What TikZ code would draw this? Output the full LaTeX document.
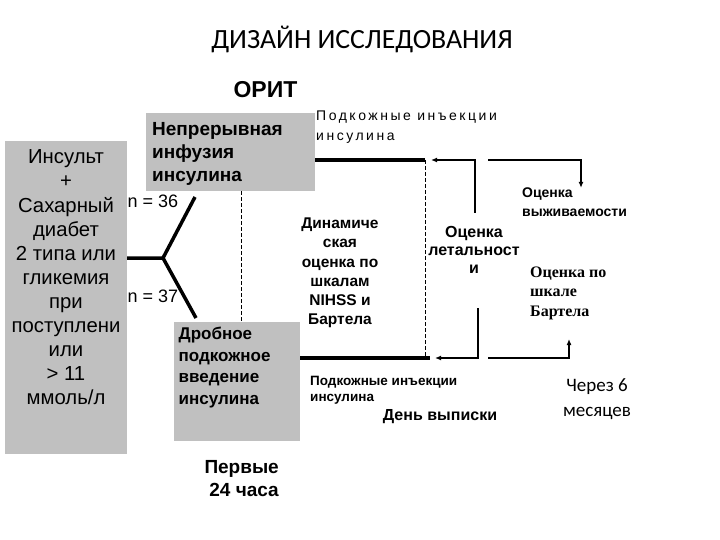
\documentclass[tikz,border=0pt]{standalone}
\usepackage{fontspec}
\setmainfont{Liberation Sans}
\newfontfamily\carlito{Carlito}
\newfontfamily\serifb{Liberation Serif}
\newfontfamily\spacedsans[LetterSpace=18]{Liberation Sans}
\usetikzlibrary{arrows.meta}
\definecolor{boxgray}{HTML}{C0C0C0}
\begin{document}
\begin{tikzpicture}[x=1pt,y=-1pt,
  graybox/.style={fill=boxgray,draw=none,inner sep=0pt},
  thickln/.style={line width=3.5pt},
  thinarr/.style={line width=1.2pt,-{Latex[length=6pt,width=5pt]}},
  thinln/.style={line width=1.2pt},
  dashln/.style={line width=0.8pt,dash pattern=on 4pt off 2pt},
  txt/.style={inner sep=0pt,align=center}]
\useasboundingbox (0,0) rectangle (720,540);
% title
\node[txt,font=\carlito\fontsize{27.8}{32}\selectfont] (title) at (362,39) {ДИЗАЙН ИССЛЕДОВАНИЯ};
\node[txt,font=\bfseries\fontsize{23}{27}\selectfont] (orit) at (265.5,90) {ОРИТ};
% boxes
\node[graybox,minimum width=122pt,minimum height=313pt] (leftbox) at (66,297.5) {};
\node[txt,font=\fontsize{20.3}{24.1}\selectfont] (lefttxt) at (66,277.5) {Инсульт\\+\\Сахарный\\диабет\\2 типа или\\гликемия\\при\\поступлени\\или\\> 11\\ммоль/л};
\node[graybox,minimum width=169pt,minimum height=78pt] (topbox) at (230.5,152) {};
\node[txt,align=left,anchor=west,font=\bfseries\fontsize{19}{23}\selectfont] (toptxt) at (152,154) {Непрерывная\\инфузия\\инсулина};
\node[graybox,minimum width=126pt,minimum height=119pt] (botbox) at (237,381.5) {};
\node[txt,align=left,anchor=west,font=\bfseries\fontsize{17}{21.7}\selectfont] (bottxt) at (178.5,367.5) {Дробное\\подкожное\\введение\\инсулина};
% fork
\coordinate (fork) at (163,258);
\coordinate (up) at (195,197);
\coordinate (dn) at (196,318);
\draw[thickln] (fork -| leftbox.east) -- (fork) -- (up);
\draw[thickln] (fork) -- (dn);
\node[txt,font=\fontsize{18}{20}\selectfont] (n36) at (153,201) {n = 36};
\node[txt,font=\fontsize{18}{20}\selectfont] (n37) at (153,296) {n = 37};
% dashed lines
\coordinate (d1) at (241,200);
\draw[dashln] (d1 |- topbox.south) -- (d1 |- botbox.north);
\coordinate (tline) at (425,160);
\coordinate (bline) at (430,358);
\draw[thickln] (tline -| topbox.east) -- (tline);
\draw[thickln] (bline -| botbox.east) -- (bline);
\draw[dashln] (tline) -- (tline |- bline);
% labels
\node[txt,align=left,anchor=west,font=\spacedsans\fontsize{14}{20}\selectfont] (sc1) at (316,127) {Подкожные инъекции\\инсулина};
\node[txt,font=\bfseries\fontsize{15.5}{19.2}\selectfont] (dyn) at (340,273) {Динамиче\\ская\\оценка по\\шкалам\\NIHSS и\\Бартела};
\node[txt,font=\bfseries\fontsize{16}{18}\selectfont] (leth) at (474,250) {Оценка\\летальност\\и};
\node[txt,align=left,anchor=west,font=\bfseries\fontsize{14}{19}\selectfont] (surv) at (522,202.5) {Оценка\\выживаемости};
\node[txt,align=left,anchor=west,font=\serifb\bfseries\fontsize{16}{19.5}\selectfont] (bart) at (530,293) {Оценка по\\шкале\\Бартела};
\node[txt,align=left,anchor=west,font=\bfseries\fontsize{13.5}{16}\selectfont] (sc2) at (310,390) {Подкожные инъекции\\инсулина};
\node[txt,font=\bfseries\fontsize{16}{19}\selectfont] (disch) at (440,417) {День выписки};
\node[txt,font=\carlito\fontsize{19}{25}\selectfont] (six) at (597,399.5) {Через 6\\месяцев};
\node[txt,align=right,anchor=east,font=\bfseries\fontsize{19}{23}\selectfont] (first) at (279,478.5) {Первые\\24 часа};
% arrows
\coordinate (ta) at (475,213);
\coordinate (ba) at (478,308);
\draw[thinarr] (ta) -- (ta |- tline) -- ([xshift=6pt]tline);
\draw[thinarr] (ba) -- (ba |- bline) -- ([xshift=5pt]bline);
\coordinate (tr) at (581,160);
\draw[thinarr] (488,160) -- (tr) -- (tr |- surv.north);
\coordinate (br) at (569,358);
\draw[thinarr] (488,358) -- (br) -- (569,339);
\end{tikzpicture}
\end{document}
